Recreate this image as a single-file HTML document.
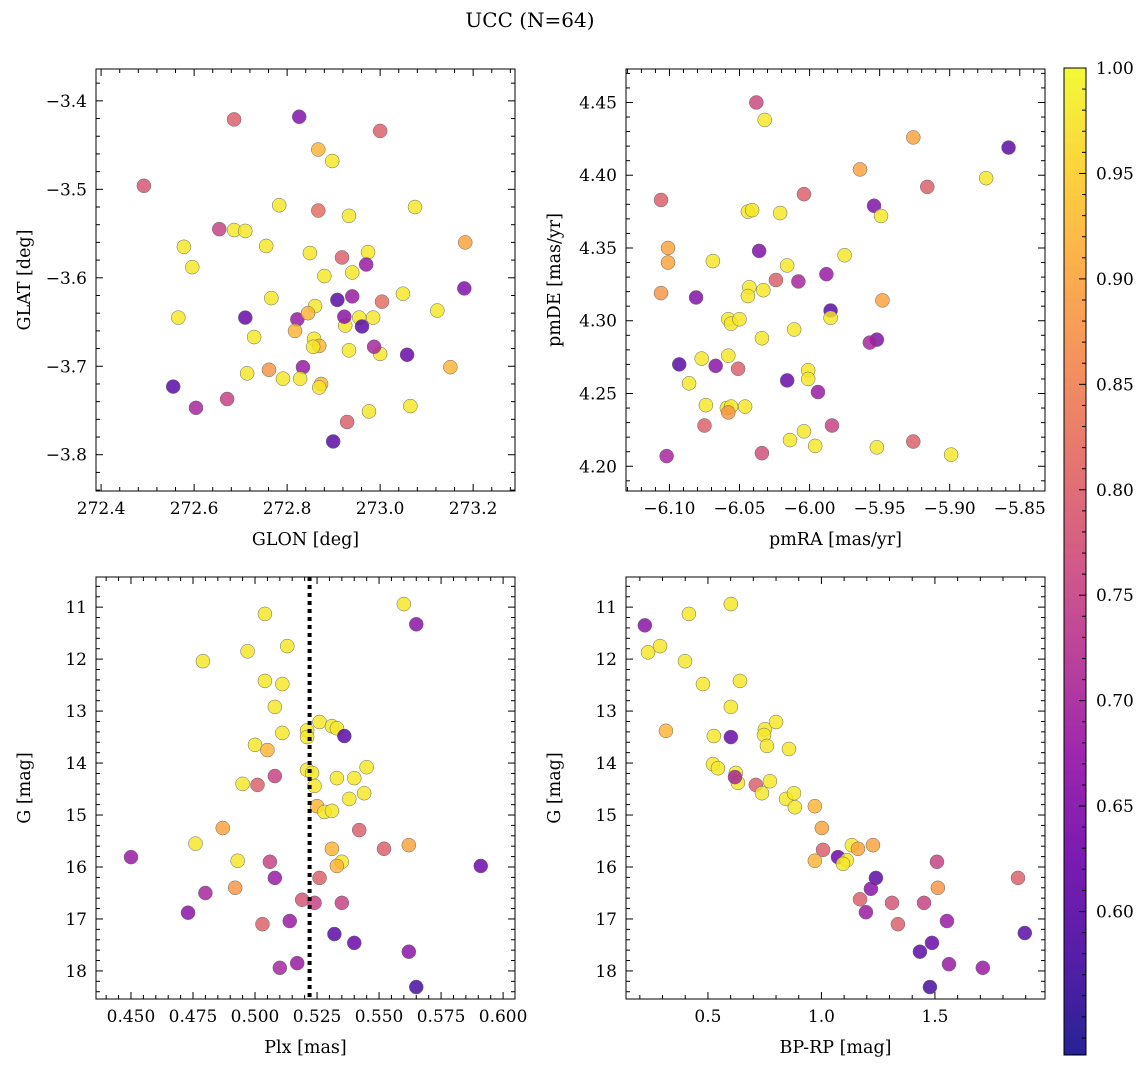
<!DOCTYPE html>
<html><head><meta charset="utf-8"><style>
html,body{margin:0;padding:0;background:#fff;}
svg{display:block;font-family:"DejaVu Serif","Liberation Serif",serif;}
</style></head><body>
<svg id="fig" width="1148" height="1068" viewBox="0 0 1148 1068" xmlns="http://www.w3.org/2000/svg">
<text x="530" y="27" text-anchor="middle" font-size="20">UCC (N=64)</text>
</svg>
<script>
// ---- Panel 1: GLON / GLAT ----
const glon=[272.686,272.826,272.867,273.000,272.492,272.897,272.783,272.867,272.933,273.075,272.654,272.686,272.710,272.578,272.755,272.849,273.183,272.596,272.940,272.918,272.974,272.970,272.880,273.049,273.004,272.766,272.908,272.940,272.860,273.181,272.566,272.710,272.925,272.955,272.985,272.923,272.961,272.822,272.845,272.817,272.858,272.869,272.856,272.933,273.000,272.987,273.058,273.123,272.834,272.729,272.761,272.714,272.791,272.828,272.873,272.869,272.555,272.604,272.671,273.151,272.929,272.976,273.065,272.899];
const glat=[-3.421,-3.418,-3.455,-3.434,-3.496,-3.468,-3.518,-3.524,-3.530,-3.520,-3.545,-3.546,-3.547,-3.565,-3.564,-3.572,-3.560,-3.588,-3.594,-3.577,-3.571,-3.585,-3.598,-3.618,-3.627,-3.623,-3.625,-3.621,-3.632,-3.612,-3.645,-3.645,-3.654,-3.645,-3.645,-3.644,-3.655,-3.647,-3.640,-3.660,-3.669,-3.677,-3.678,-3.682,-3.686,-3.678,-3.687,-3.637,-3.701,-3.667,-3.704,-3.708,-3.714,-3.714,-3.720,-3.724,-3.723,-3.747,-3.737,-3.701,-3.763,-3.751,-3.745,-3.785];
const prob1=[0.8,0.65,0.92,0.8,0.78,0.98,0.98,0.82,0.98,0.98,0.75,0.98,0.98,0.98,0.98,0.98,0.9,0.98,0.98,0.8,0.98,0.68,0.98,0.98,0.82,0.98,0.6,0.68,0.98,0.65,0.98,0.62,0.98,0.98,0.98,0.66,0.6,0.68,0.92,0.92,0.98,0.92,0.98,0.98,0.98,0.7,0.62,0.98,0.68,0.98,0.88,0.98,0.98,0.98,0.92,0.98,0.6,0.7,0.75,0.92,0.8,0.98,0.98,0.6];
// ---- Panel 2: pmRA / pmDE ----
const pmra=[-6.038,-6.032,-5.858,-5.926,-5.964,-6.004,-5.916,-5.874,-6.106,-5.954,-5.949,-6.044,-6.041,-6.021,-6.101,-6.101,-6.036,-6.069,-5.975,-6.016,-6.024,-6.043,-6.044,-6.033,-6.106,-6.081,-5.988,-6.008,-5.948,-5.985,-5.985,-6.058,-6.056,-6.050,-6.011,-6.034,-5.952,-5.957,-6.001,-6.001,-6.077,-6.093,-6.067,-6.051,-6.058,-6.086,-6.016,-5.994,-6.074,-6.075,-6.046,-6.059,-6.056,-6.058,-5.984,-5.926,-6.004,-6.014,-5.996,-5.952,-6.034,-6.102,-5.899];
const pmde=[4.450,4.438,4.419,4.426,4.404,4.387,4.392,4.398,4.383,4.379,4.372,4.375,4.376,4.374,4.350,4.340,4.348,4.341,4.345,4.338,4.328,4.323,4.317,4.321,4.319,4.316,4.332,4.327,4.314,4.307,4.302,4.301,4.298,4.301,4.294,4.288,4.287,4.285,4.266,4.260,4.274,4.270,4.269,4.267,4.276,4.257,4.259,4.251,4.242,4.228,4.241,4.240,4.241,4.237,4.228,4.217,4.224,4.218,4.214,4.213,4.209,4.207,4.208];
const prob2=[0.76,0.98,0.6,0.9,0.9,0.8,0.8,0.98,0.8,0.65,0.98,0.98,0.98,0.98,0.9,0.9,0.65,0.98,0.98,0.98,0.8,0.98,0.98,0.98,0.88,0.65,0.68,0.7,0.9,0.6,0.98,0.98,0.98,0.98,0.98,0.98,0.65,0.7,0.98,0.98,0.98,0.6,0.66,0.8,0.98,0.98,0.62,0.68,0.98,0.8,0.98,0.98,0.98,0.88,0.75,0.8,0.98,0.98,0.98,0.98,0.77,0.7,0.98];
// ---- Panel 3: Plx / G ----
const plx=[0.504,0.560,0.565,0.479,0.497,0.513,0.504,0.511,0.508,0.526,0.531,0.533,0.521,0.521,0.511,0.536,0.500,0.505,0.521,0.523,0.533,0.540,0.545,0.508,0.501,0.495,0.524,0.538,0.544,0.525,0.528,0.531,0.542,0.476,0.487,0.531,0.535,0.533,0.506,0.493,0.552,0.562,0.450,0.591,0.526,0.508,0.492,0.480,0.519,0.524,0.535,0.473,0.503,0.514,0.532,0.540,0.517,0.562,0.510,0.565];
const g3=[11.13,10.94,11.33,12.04,11.85,11.75,12.42,12.48,12.92,13.21,13.29,13.33,13.37,13.50,13.42,13.48,13.65,13.75,14.13,14.19,14.29,14.29,14.08,14.25,14.42,14.40,14.44,14.69,14.58,14.83,14.94,14.92,15.29,15.55,15.25,15.65,15.90,15.98,15.90,15.88,15.65,15.58,15.81,15.98,16.21,16.21,16.40,16.50,16.63,16.69,16.69,16.88,17.10,17.04,17.29,17.46,17.85,17.63,17.94,18.31];
const prob3=[0.98,0.98,0.66,0.98,0.98,0.98,0.98,0.98,0.98,0.98,0.98,0.98,0.98,0.98,0.98,0.6,0.98,0.92,0.98,0.98,0.98,0.98,0.98,0.75,0.8,0.98,0.98,0.98,0.98,0.92,0.98,0.98,0.8,0.98,0.9,0.92,0.98,0.92,0.75,0.98,0.8,0.9,0.68,0.62,0.8,0.68,0.88,0.7,0.78,0.75,0.75,0.66,0.8,0.68,0.6,0.62,0.68,0.66,0.7,0.58];
// ---- Panel 4: BP-RP / G ----
const bprp=[0.222,0.236,0.289,0.416,0.601,0.399,0.478,0.641,0.315,0.601,0.526,0.601,0.751,0.800,0.747,0.760,0.857,0.522,0.544,0.623,0.632,0.619,0.711,0.773,0.738,0.844,0.879,0.883,0.971,1.002,1.007,0.971,1.073,1.112,1.095,1.134,1.161,1.227,1.240,1.218,1.170,1.196,1.311,1.337,1.452,1.509,1.513,1.553,1.896,1.866,1.487,1.434,1.562,1.711,1.478];
const g4=[11.35,11.87,11.75,11.13,10.94,12.04,12.48,12.42,13.38,12.92,13.48,13.50,13.35,13.21,13.46,13.67,13.73,14.02,14.10,14.19,14.38,14.27,14.42,14.35,14.58,14.69,14.58,14.85,14.83,15.25,15.67,15.88,15.81,15.87,15.94,15.58,15.65,15.58,16.21,16.42,16.62,16.87,16.69,17.10,16.69,15.90,16.40,17.04,17.27,16.21,17.46,17.63,17.87,17.94,18.31];
const prob4=[0.66,0.98,0.98,0.98,0.98,0.98,0.98,0.98,0.92,0.98,0.98,0.62,0.98,0.98,0.98,0.98,0.98,0.98,0.98,0.98,0.98,0.7,0.8,0.98,0.98,0.98,0.98,0.98,0.92,0.9,0.8,0.92,0.62,0.98,0.98,0.98,0.9,0.9,0.6,0.66,0.8,0.68,0.78,0.8,0.75,0.75,0.88,0.68,0.6,0.8,0.62,0.6,0.68,0.68,0.58];
const plxLine=0.522;
const cbMin=0.532, cbMax=1.0;
const cbTicks=[0.60,0.65,0.70,0.75,0.80,0.85,0.90,0.95,1.00];

const NS="http://www.w3.org/2000/svg";
const svg=document.getElementById('fig');
function mk(tag,attrs,parent){const e=document.createElementNS(NS,tag);for(const k in attrs)e.setAttribute(k,attrs[k]);(parent||svg).appendChild(e);return e;}
const stops=["#0d0887","#41049d","#6a00a8","#8f0da4","#b12a90","#cc4778","#e16462","#f2844b","#fca636","#fcce25","#f0f921"];
function hex(h){return [1,3,5].map(i=>parseInt(h.substr(i,2),16));}
function plasma(t){t=Math.max(0,Math.min(1,t));const f=t*10,i=Math.min(9,Math.floor(f)),r=f-i;const a=hex(stops[i]),b=hex(stops[i+1]);return `rgb(${a.map((v,k)=>Math.round(v+(b[k]-v)*r)).join(',')})`;}
function col(p){return plasma((p-cbMin)/(cbMax-cbMin));}

function panel(cfg){
  const {L,T,W,H,x0,x1,y0,y1,invY,xt,yt,xm,ym,xfmt,yfmt,xlab,ylab,name}=cfg;
  const g=mk('g',{});
  
  
  const sx=v=>L+(v-x0)/(x1-x0)*W;
  const sy=invY?(v=>T+(v-y0)/(y1-y0)*H):(v=>T+H-(v-y0)/(y1-y0)*H);
  cfg.sx=sx;cfg.sy=sy;cfg.g=g;
  const eps=1e-9;
  const tk=mk('g',{stroke:'#000','stroke-width':1},g);
  
  
  for(let v=Math.ceil(x0/xm-eps)*xm;v<=x1+eps;v+=xm){const x=sx(v);const major=xt.some(t=>Math.abs(t-v)<xm/3);const l=major?7:4;
    mk('line',{x1:x,x2:x,y1:T+H,y2:T+H-l},tk);mk('line',{x1:x,x2:x,y1:T,y2:T+l},tk);}
  const ya=Math.min(y0,y1),yb=Math.max(y0,y1);
  for(let v=Math.ceil(ya/ym-eps)*ym;v<=yb+eps;v+=ym){const y=sy(v);const major=yt.some(t=>Math.abs(t-v)<ym/3);const l=major?7:4;
    mk('line',{y1:y,y2:y,x1:L,x2:L+l},tk);mk('line',{y1:y,y2:y,x1:L+W,x2:L+W-l},tk);}
  xt.forEach(v=>{const t=mk('text',{x:sx(v),y:T+H+23,'text-anchor':'middle','font-size':17},g);t.textContent=xfmt(v);
    
    });
  yt.forEach(v=>{const t=mk('text',{x:L-9,y:sy(v)+6,'text-anchor':'end','font-size':17},g);t.textContent=yfmt(v);
    
    });
  const xl=mk('text',{x:L+W/2,y:T+H+54,'text-anchor':'middle','font-size':17.5},g);xl.textContent=xlab;
  
  
  const yl=mk('text',{x:0,y:0,'text-anchor':'middle','font-size':17.5,transform:`translate(${L-66},${T+H/2}) rotate(-90)`},g);yl.textContent=ylab;
  
  
  return cfg;
}
function points(cfg,xs,ys,ps){
  const clip='c'+cfg.name;
  const cp=mk('clipPath',{id:clip},cfg.g);mk('rect',{x:cfg.L,y:cfg.T,width:cfg.W,height:cfg.H},cp);
  const pg=mk('g',{'clip-path':`url(#${clip})`},cfg.g);
  xs.forEach((v,i)=>{const c=mk('circle',{cx:cfg.sx(v),cy:cfg.sy(ys[i]),r:7,fill:col(ps[i]),'fill-opacity':0.82,stroke:'#666','stroke-width':0.5},pg);
    
    });
  return pg;
}
function frame(cfg){const r=mk('rect',{x:cfg.L,y:cfg.T,width:cfg.W,height:cfg.H,fill:'none',stroke:'#000','stroke-width':1},cfg.g);
  
  }
const rng=(a,b,s)=>{const o=[];for(let v=a;v<=b+1e-9;v+=s)o.push(+v.toFixed(4));return o;};

const p1=panel({name:'glon-glat-panel',L:96,T:69,W:419,H:422,x0:272.389,x1:273.290,y0:-3.841,y1:-3.364,invY:false,
  xt:rng(272.4,273.2,0.2),yt:[-3.8,-3.7,-3.6,-3.5,-3.4],xm:0.04,ym:0.02,xfmt:v=>v.toFixed(1),yfmt:v=>'\u2212'+Math.abs(v).toFixed(1),xlab:'GLON [deg]',ylab:'GLAT [deg]'});
points(p1,glon,glat,prob1);frame(p1);
const p2=panel({name:'pm-panel',L:626,T:69,W:419,H:422,x0:-6.131,x1:-5.832,y0:4.183,y1:4.473,invY:false,
  xt:[-6.10,-6.05,-6.00,-5.95,-5.90,-5.85],yt:rng(4.20,4.45,0.05),xm:0.01,ym:0.01,xfmt:v=>'\u2212'+Math.abs(v).toFixed(2),yfmt:v=>v.toFixed(2),xlab:'pmRA [mas/yr]',ylab:'pmDE [mas/yr]'});
points(p2,pmra,pmde,prob2);frame(p2);
const p3=panel({name:'plx-g-panel',L:96,T:577,W:419,H:422,x0:0.4359,x1:0.6048,y0:10.42,y1:18.54,invY:true,
  xt:rng(0.45,0.60,0.025),yt:rng(11,18,1),xm:0.005,ym:0.2,xfmt:v=>v.toFixed(3),yfmt:v=>v.toFixed(0),xlab:'Plx [mas]',ylab:'G [mag]'});
const pg3=points(p3,plx,g3,prob3);
const vl=mk('line',{x1:p3.sx(plxLine),x2:p3.sx(plxLine),y1:577,y2:999,stroke:'#000','stroke-width':4,'stroke-dasharray':'4,4'},pg3);


frame(p3);
const p4=panel({name:'cmd-panel',L:626,T:577,W:419,H:422,x0:0.139,x1:1.985,y0:10.42,y1:18.54,invY:true,
  xt:[0.5,1.0,1.5],yt:rng(11,18,1),xm:0.1,ym:0.2,xfmt:v=>v.toFixed(1),yfmt:v=>v.toFixed(0),xlab:'BP-RP [mag]',ylab:'G [mag]'});
points(p4,bprp,g4,prob4);frame(p4);

const cb=mk('g',{});


const CL=1064,CT=68,CW=22,CH=987;
const cy=v=>CT+CH-(v-cbMin)/(cbMax-cbMin)*CH;
for(let i=0;i<CH;i++){mk('rect',{x:CL,y:CT+i,width:CW,height:1.5,fill:plasma(1-i/CH),'fill-opacity':0.82},cb);}
mk('rect',{x:CL,y:CT,width:CW,height:CH,fill:'none',stroke:'#000','stroke-width':1},cb);
for(let v=Math.ceil(cbMin/0.01)*0.01;v<=cbMax+1e-9;v+=0.01){const y=cy(v);const major=cbTicks.some(t=>Math.abs(t-v)<0.003);
  mk('line',{x1:CL+CW,x2:CL+CW-(major?7:4),y1:y,y2:y,stroke:'#000'},cb);}
cbTicks.forEach(v=>{const t=mk('text',{x:CL+CW+10,y:cy(v)+6,'font-size':17},cb);t.textContent=v.toFixed(2);
  
  });
</script>
</body></html>
